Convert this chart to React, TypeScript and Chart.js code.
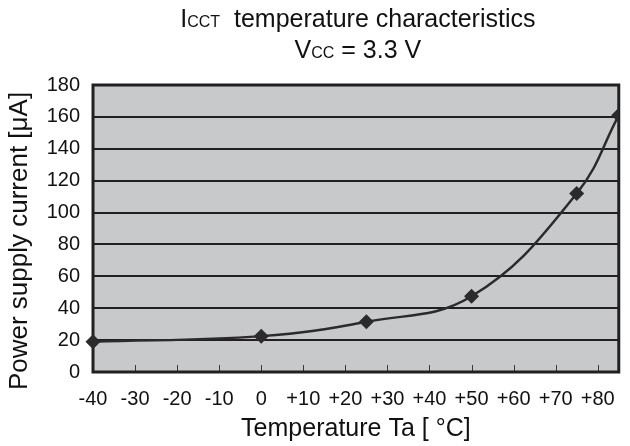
import React, { useEffect, useRef } from "react";
import { Chart, registerables } from "chart.js";

Chart.register(...registerables);

const temperatures = [-40, 0, 25, 50, 75, 85];
const currents = [19, 22.5, 31.5, 47.5, 112, 161];
const xTickValues = [-40, -30, -20, -10, 0, 10, 20, 30, 40, 50, 60, 70, 80];
const yTickValues = [0, 20, 40, 60, 80, 100, 120, 140, 160, 180];
const titleLine1 = [
  { text: "I", small: false },
  { text: "CCT", small: true },
  { text: "  temperature characteristics", small: false },
];
const titleLine2 = [
  { text: "V", small: false },
  { text: "CC", small: true },
  { text: " = 3.3 V", small: false },
];
const xAxisTitle = "Temperature Ta [ °C]";
const yAxisTitle = "Power supply current [μA]";

const FONT = "'Liberation Sans', Arial, Helvetica, sans-serif";
const INK = "#231f20";
const TEXT = "#111";
const PLOT_BG = "#c8c9cb";

const decorPlugin = {
  id: "decor",
  beforeDraw(chart: any) {
    const { ctx, chartArea } = chart;
    ctx.save();
    ctx.fillStyle = PLOT_BG;
    ctx.fillRect(chartArea.left, chartArea.top, chartArea.right - chartArea.left, chartArea.bottom - chartArea.top);
    ctx.restore();
  },
  beforeDatasetsDraw(chart: any) {
    const { ctx, chartArea, scales } = chart;
    ctx.save();
    ctx.strokeStyle = "#3a3a3a";
    ctx.lineWidth = 1;
    xTickValues.forEach((v) => {
      const px = Math.round(scales.x.getPixelForValue(v)) + 0.5;
      ctx.beginPath();
      ctx.moveTo(px, chartArea.bottom);
      ctx.lineTo(px, chartArea.bottom - 7);
      ctx.stroke();
    });
    ctx.strokeStyle = INK;
    ctx.lineWidth = 3;
    ctx.strokeRect(chartArea.left, chartArea.top, chartArea.right - chartArea.left, chartArea.bottom - chartArea.top);
    ctx.restore();
  },
  afterDraw(chart: any) {
    const { ctx, chartArea } = chart;
    const cx = (chartArea.left + chartArea.right) / 2 + 2;
    const drawLine = (parts: { text: string; small: boolean }[], baseline: number) => {
      ctx.save();
      ctx.fillStyle = TEXT;
      ctx.textBaseline = "alphabetic";
      ctx.textAlign = "left";
      const widths = parts.map((p) => {
        ctx.font = `${p.small ? 16 : 25}px ${FONT}`;
        return ctx.measureText(p.text).width;
      });
      const total = widths.reduce((a, b) => a + b, 0);
      let x = cx - total / 2;
      parts.forEach((p, i) => {
        ctx.font = `${p.small ? 16 : 25}px ${FONT}`;
        ctx.fillText(p.text, x, baseline);
        x += widths[i];
      });
      ctx.restore();
    };
    drawLine(titleLine1, 27);
    drawLine(titleLine2, 58);

    // y axis title
    ctx.save();
    ctx.fillStyle = TEXT;
    ctx.font = `26px ${FONT}`;
    ctx.textAlign = "center";
    ctx.textBaseline = "middle";
    ctx.translate(20, 241);
    ctx.rotate(-Math.PI / 2);
    ctx.fillText(yAxisTitle, 0, 0);
    ctx.restore();
  },
};

export default function App() {
  const canvasRef = useRef<HTMLCanvasElement | null>(null);

  useEffect(() => {
    const canvas = canvasRef.current;
    if (!canvas) return;
    const chart = new Chart(canvas, {
      type: "line",
      data: {
        datasets: [
          {
            data: temperatures.map((t, i) => ({ x: t, y: currents[i] })),
            borderColor: "#2b2b2b",
            backgroundColor: "#2b2b2b",
            borderWidth: 2.5,
            tension: 0.4,
            pointStyle: "rectRot",
            pointRadius: 7.5,
            pointHoverRadius: 7.5,
            pointBorderWidth: 0,
            clip: { left: false, top: false, right: 0, bottom: false } as any,
          },
        ],
      },
      options: {
        responsive: false,
        animation: false,
        events: [],
        layout: { padding: { top: 85, right: 1, bottom: 0, left: 0 } },
        plugins: {
          legend: { display: false },
          tooltip: { enabled: false },
          title: { display: false },
        },
        scales: {
          x: {
            type: "linear",
            min: -40,
            max: 85,
            afterFit: (scale: any) => {
              scale.height = 74;
            },
            afterBuildTicks: (scale: any) => {
              scale.ticks = xTickValues.map((v) => ({ value: v }));
            },
            grid: { display: false, drawTicks: false },
            border: { display: false },
            ticks: {
              autoSkip: false,
              maxRotation: 0,
              padding: 15,
              color: TEXT,
              font: { family: FONT, size: 20 },
              callback: (v: any) => (Number(v) > 0 ? "+" + v : String(v)),
            },
            title: {
              display: true,
              text: xAxisTitle,
              color: TEXT,
              font: { family: FONT, size: 25, lineHeight: 1.36 },
              padding: 0,
            },
          },
          y: {
            min: 0,
            max: 180,
            afterFit: (scale: any) => {
              scale.width = 93;
            },
            afterBuildTicks: (scale: any) => {
              scale.ticks = yTickValues.map((v) => ({ value: v }));
            },
            grid: { color: INK, lineWidth: 2, drawTicks: false },
            border: { display: false },
            ticks: {
              padding: 13,
              color: TEXT,
              font: { family: FONT, size: 20 },
            },
            title: { display: false },
          },
        },
      },
      plugins: [decorPlugin],
    });
    return () => chart.destroy();
  }, []);

  return (
    <div style={{ position: "fixed", left: 0, top: 0, width: 630, height: 446, background: "#fff" }}>
      <canvas ref={canvasRef} width={630} height={446} style={{ display: "block" }} />
    </div>
  );
}
